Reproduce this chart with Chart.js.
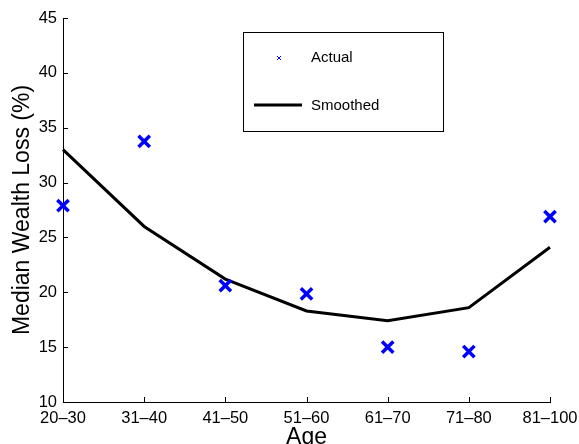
<!DOCTYPE html>
<html>
<head>
<meta charset="utf-8">
<script src="https://cdn.jsdelivr.net/npm/chart.js@4/dist/chart.umd.min.js"></script>
<style>
  html, body { margin: 0; padding: 0; background: #fff; }
</style>
</head>
<body>
<canvas id="chart" width="579" height="444"></canvas>
<script>
const ageGroups = ["20–30", "31–40", "41–50", "51–60", "61–70", "71–80", "81–100"];
const actualLoss = [27.9, 33.75, 20.6, 19.85, 15.0, 14.6, 26.9];
const smoothedLoss = [33.0, 26.0, 21.2, 18.3, 17.4, 18.6, 24.1];
const yMin = 10, yMax = 45, yStep = 5;

const FONT = '"Liberation Sans", Arial, Helvetica, sans-serif';

// MATLAB style ticks pointing into the plot
const innerTicks = {
  id: "innerTicks",
  afterDraw(chart) {
    const { ctx } = chart;
    const x = chart.scales.x, y = chart.scales.y;
    ctx.save();
    ctx.strokeStyle = "#000";
    ctx.lineWidth = 1;
    ctx.beginPath();
    y.ticks.forEach((t, i) => {
      const py = Math.round(y.getPixelForTick(i)) + 0.5;
      ctx.moveTo(y.right, py);
      ctx.lineTo(y.right + 5, py);
    });
    x.ticks.forEach((t, i) => {
      const px = Math.round(x.getPixelForTick(i)) + 0.5;
      ctx.moveTo(px, x.top);
      ctx.lineTo(px, x.top - 5);
    });
    ctx.stroke();
    ctx.restore();
  }
};

// boxed legend inside the axes
const boxLegend = {
  id: "boxLegend",
  afterDraw(chart) {
    const { ctx } = chart;
    const ds = chart.data.datasets;
    ctx.save();
    ctx.fillStyle = "#fff";
    ctx.fillRect(243.5, 32.5, 200, 99);
    ctx.strokeStyle = "#000";
    ctx.lineWidth = 1;
    ctx.strokeRect(243.5, 32.5, 200, 99);

    // Actual: small cross
    ctx.strokeStyle = ds[0].borderColor;
    ctx.lineWidth = 1;
    ctx.beginPath();
    ctx.moveTo(277, 56); ctx.lineTo(281, 60);
    ctx.moveTo(281, 56); ctx.lineTo(277, 60);
    ctx.stroke();

    // Smoothed: line
    ctx.strokeStyle = ds[1].borderColor;
    ctx.lineWidth = 3;
    ctx.beginPath();
    ctx.moveTo(254, 105); ctx.lineTo(302, 105);
    ctx.stroke();

    ctx.fillStyle = "#000";
    ctx.font = "15px " + FONT;
    ctx.textBaseline = "middle";
    ctx.textAlign = "left";
    ctx.fillText(ds[0].label, 311, 58);
    ctx.fillText(ds[1].label, 311, 106);
    ctx.restore();
  }
};

new Chart(document.getElementById("chart"), {
  type: "line",
  data: {
    labels: ageGroups,
    datasets: [
      {
        label: "Actual",
        data: actualLoss,
        showLine: false,
        borderColor: "#0000ff",
        backgroundColor: "#0000ff",
        pointStyle: "crossRot",
        pointRadius: 8,
        pointBorderWidth: 3.5,
        pointHoverRadius: 8,
        order: 0
      },
      {
        label: "Smoothed",
        data: smoothedLoss,
        borderColor: "#000",
        borderWidth: 3,
        pointRadius: 0,
        tension: 0,
        fill: false,
        order: 1
      }
    ]
  },
  options: {
    responsive: false,
    animation: false,
    events: [],
    layout: { padding: { top: 18, right: 29, left: 0, bottom: 0 } },
    plugins: {
      legend: { display: false },
      tooltip: { enabled: false }
    },
    scales: {
      x: {
        offset: false,
        grid: { display: false, drawTicks: false },
        border: { display: true, color: "#000", width: 1 },
        ticks: { color: "#000", font: { family: FONT, size: 16.5 }, padding: 7, maxRotation: 0, autoSkip: false },
        title: { display: true, text: "Age", color: "#000", font: { family: FONT, size: 23, lineHeight: 0.55 }, padding: 0 },
        afterFit(scale) {
          scale.height = 42;
          scale.paddingLeft = 0;
          scale.paddingRight = 0;
        }
      },
      y: {
        min: yMin,
        max: yMax,
        grid: { display: false, drawTicks: false },
        border: { display: true, color: "#000", width: 1 },
        ticks: { stepSize: yStep, color: "#000", font: { family: FONT, size: 16.5 }, padding: 6 },
        title: { display: true, text: "Median Wealth Loss (%)", color: "#000", font: { family: FONT, size: 23 }, padding: { top: 8.5, bottom: 0 } },
        afterFit(scale) { scale.width = 63; }
      }
    }
  },
  plugins: [innerTicks, boxLegend]
});
</script>
</body>
</html>
